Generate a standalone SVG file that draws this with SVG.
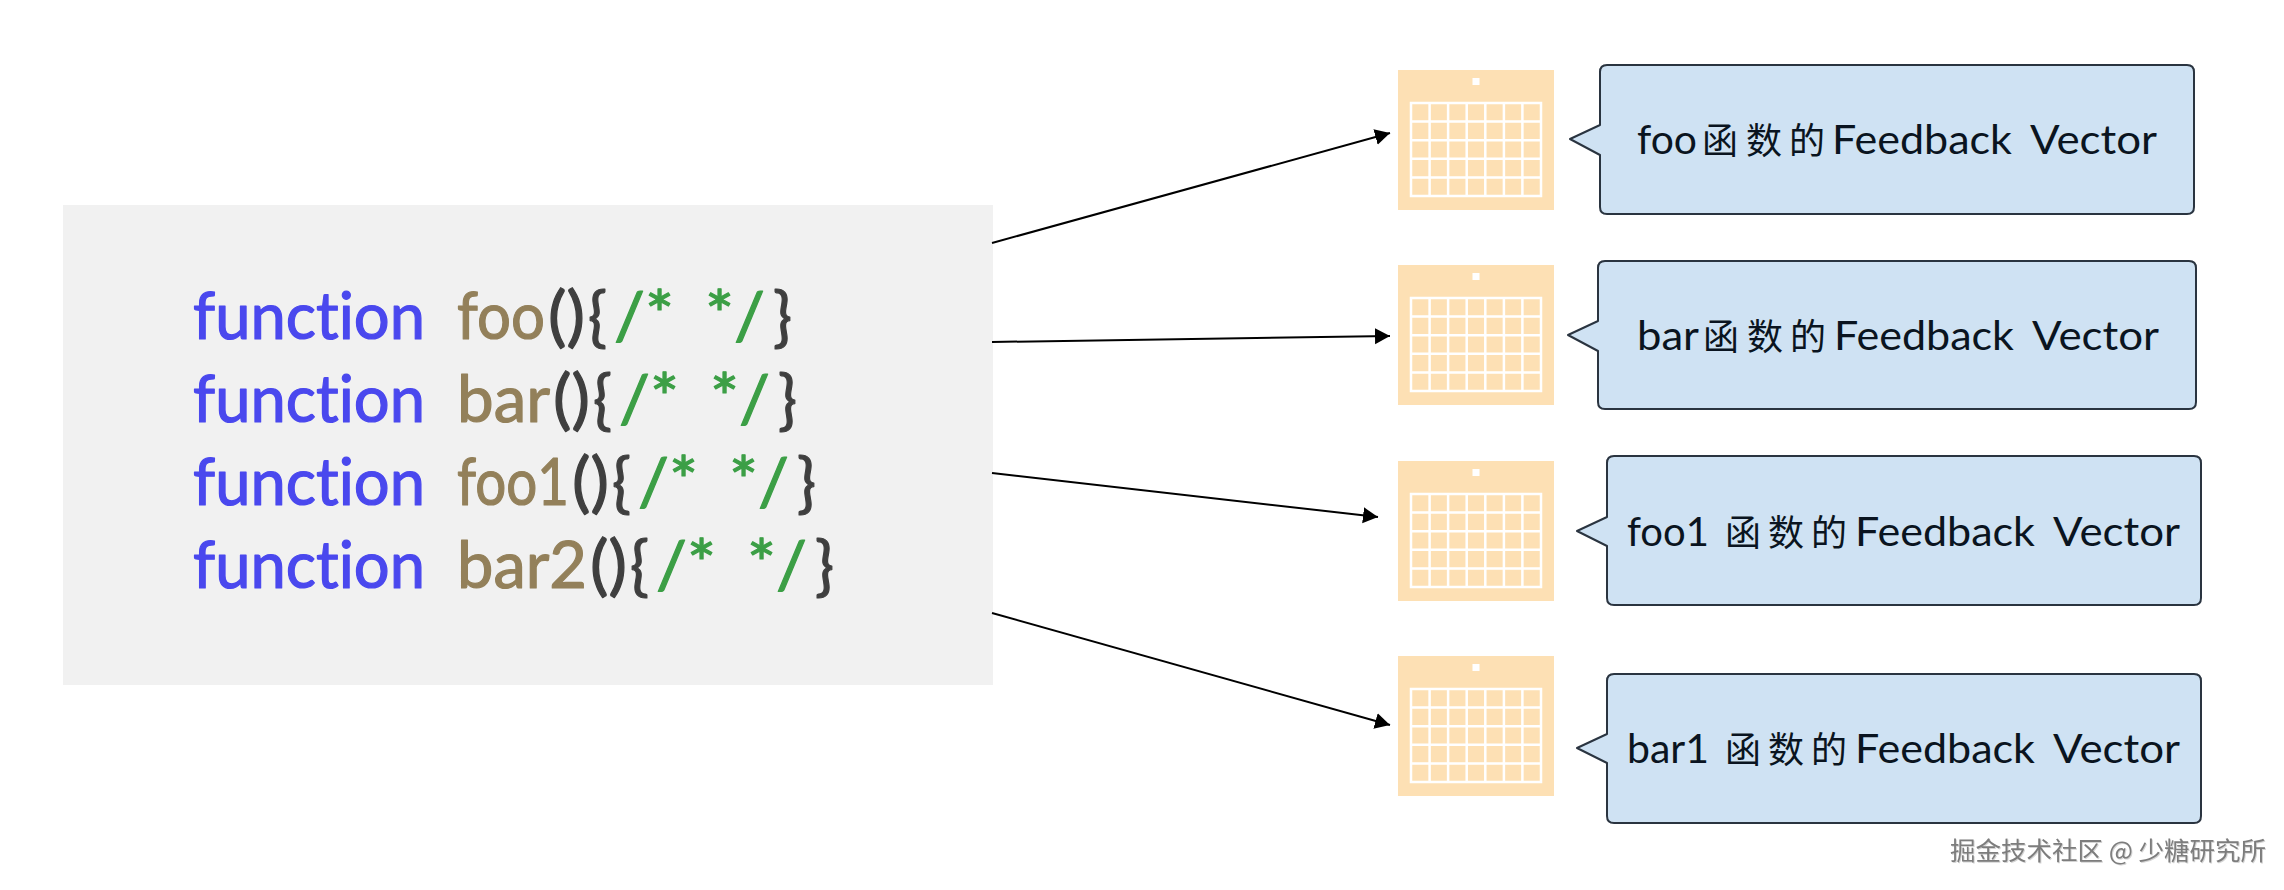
<svg xmlns="http://www.w3.org/2000/svg" width="2284" height="890" viewBox="0 0 2284 890">
<style>
text{font-variant-ligatures:none}
.c{font-size:65px;font-family:"Lato","Noto Sans",sans-serif;stroke-width:1.200px;stroke-linejoin:round}
.k{fill:#4a48ee;stroke:#4a48ee}.n{fill:#93805a;stroke:#93805a}.p{fill:#3f3f3f;stroke:#3f3f3f}.g{fill:#3c9f46;stroke:#3c9f46}
.t{font-size:40px;fill:#0a1420;font-family:"Lato","Noto Sans CJK SC",sans-serif}
.z{font-size:36px;fill:#0a1420;font-family:"Noto Sans CJK SC",sans-serif;font-weight:400}
.b{fill:#cfe2f3;stroke:#2a3440;stroke-width:2;stroke-linejoin:round}
.cal{fill:#fde0b4}
.grid{stroke:#fff;stroke-width:2.500;fill:none}
.conn{stroke:#000;stroke-width:2;fill:none;marker-end:url(#a)}
.wm{font-size:25.500px;fill:#7d7d7d;font-family:"Noto Sans CJK SC",sans-serif;filter:drop-shadow(1px 1px 0 #d4d4d4)}
</style>
<defs>
<marker id="a" markerUnits="userSpaceOnUse" markerWidth="18" markerHeight="18" refX="15" refY="9" orient="auto"><path d="M0 1L15 9L0 17Z" fill="#000"/></marker>
<g id="calendar">
<rect class="cal" width="156" height="140"/>
<rect x="74.500" y="8" width="7" height="7" fill="#fff"/>
<path class="grid" d="M13 33H143V126H13ZM13 51.600H143M13 70.200H143M13 88.800H143M13 107.400H143M31.600 33V126M50.100 33V126M68.700 33V126M87.300 33V126M105.900 33V126M124.400 33V126"/>
</g>
</defs>
<g id="code">
<rect x="63" y="205" width="930" height="480" fill="#f1f1f1"/>
<text class="c k" x="193" y="339" textLength="232" lengthAdjust="spacingAndGlyphs">function</text>
<text class="c n" x="457" y="339" textLength="88" lengthAdjust="spacingAndGlyphs">foo</text>
<text class="c p" x="548" y="339" textLength="37" lengthAdjust="spacingAndGlyphs">()</text>
<text class="c p" x="588" y="339" textLength="19" lengthAdjust="spacingAndGlyphs">{</text>
<text class="c g" x="614" y="339" textLength="60" lengthAdjust="spacingAndGlyphs">/*</text>
<text class="c g" x="705" y="339" textLength="60" lengthAdjust="spacingAndGlyphs">*/</text>
<text class="c p" x="773" y="339" textLength="19" lengthAdjust="spacingAndGlyphs">}</text>
<text class="c k" x="193" y="422" textLength="232" lengthAdjust="spacingAndGlyphs">function</text>
<text class="c n" x="457" y="422" textLength="93" lengthAdjust="spacingAndGlyphs">bar</text>
<text class="c p" x="553" y="422" textLength="37" lengthAdjust="spacingAndGlyphs">()</text>
<text class="c p" x="593" y="422" textLength="19" lengthAdjust="spacingAndGlyphs">{</text>
<text class="c g" x="619" y="422" textLength="60" lengthAdjust="spacingAndGlyphs">/*</text>
<text class="c g" x="710" y="422" textLength="60" lengthAdjust="spacingAndGlyphs">*/</text>
<text class="c p" x="778" y="422" textLength="19" lengthAdjust="spacingAndGlyphs">}</text>
<text class="c k" x="193" y="505" textLength="232" lengthAdjust="spacingAndGlyphs">function</text>
<text class="c n" x="457" y="505" textLength="112" lengthAdjust="spacingAndGlyphs">foo1</text>
<text class="c p" x="572" y="505" textLength="37" lengthAdjust="spacingAndGlyphs">()</text>
<text class="c p" x="612" y="505" textLength="19" lengthAdjust="spacingAndGlyphs">{</text>
<text class="c g" x="638" y="505" textLength="60" lengthAdjust="spacingAndGlyphs">/*</text>
<text class="c g" x="729" y="505" textLength="60" lengthAdjust="spacingAndGlyphs">*/</text>
<text class="c p" x="797" y="505" textLength="19" lengthAdjust="spacingAndGlyphs">}</text>
<text class="c k" x="193" y="588" textLength="232" lengthAdjust="spacingAndGlyphs">function</text>
<text class="c n" x="457" y="588" textLength="130" lengthAdjust="spacingAndGlyphs">bar2</text>
<text class="c p" x="590" y="588" textLength="37" lengthAdjust="spacingAndGlyphs">()</text>
<text class="c p" x="630" y="588" textLength="19" lengthAdjust="spacingAndGlyphs">{</text>
<text class="c g" x="656" y="588" textLength="60" lengthAdjust="spacingAndGlyphs">/*</text>
<text class="c g" x="747" y="588" textLength="60" lengthAdjust="spacingAndGlyphs">*/</text>
<text class="c p" x="815" y="588" textLength="19" lengthAdjust="spacingAndGlyphs">}</text>
</g>
<g id="connectors">
<line class="conn" x1="992" y1="243" x2="1390" y2="133"/>
<line class="conn" x1="992" y1="342" x2="1390" y2="336"/>
<line class="conn" x1="992" y1="473" x2="1378" y2="517"/>
<line class="conn" x1="992" y1="613" x2="1390" y2="725"/>
</g>
<g id="cal1"><use href="#calendar" x="1398" y="70"/></g>
<g id="cal2"><use href="#calendar" x="1398" y="265"/></g>
<g id="cal3"><use href="#calendar" x="1398" y="461"/></g>
<g id="cal4"><use href="#calendar" x="1398" y="656"/></g>
<g id="box1">
<path class="b" d="M1607 65H2187Q2194 65 2194 72V207Q2194 214 2187 214H1607Q1600 214 1600 207V155L1570 139L1600 125V72Q1600 65 1607 65Z"/>
<text class="t" x="1637" y="154" textLength="60" lengthAdjust="spacingAndGlyphs">foo</text>
<text class="z" x="1702" y="154">函</text><text class="z" x="1746" y="154">数</text><text class="z" x="1789" y="154">的</text>
<text class="t" x="1832" y="154" textLength="180" lengthAdjust="spacingAndGlyphs">Feedback</text>
<text class="t" x="2030" y="154" textLength="127" lengthAdjust="spacingAndGlyphs">Vector</text>
</g>
<g id="box2">
<path class="b" d="M1605 261H2189Q2196 261 2196 268V402Q2196 409 2189 409H1605Q1598 409 1598 402V351L1568 335L1598 321V268Q1598 261 1605 261Z"/>
<text class="t" x="1637" y="350" textLength="62" lengthAdjust="spacingAndGlyphs">bar</text>
<text class="z" x="1703" y="350">函</text><text class="z" x="1747" y="350">数</text><text class="z" x="1790" y="350">的</text>
<text class="t" x="1834" y="350" textLength="180" lengthAdjust="spacingAndGlyphs">Feedback</text>
<text class="t" x="2032" y="350" textLength="127" lengthAdjust="spacingAndGlyphs">Vector</text>
</g>
<g id="box3">
<path class="b" d="M1614 456H2194Q2201 456 2201 463V598Q2201 605 2194 605H1614Q1607 605 1607 598V546L1577 531L1607 517V463Q1607 456 1614 456Z"/>
<text class="t" x="1627" y="546" textLength="82" lengthAdjust="spacingAndGlyphs">foo1</text>
<text class="z" x="1725" y="546">函</text><text class="z" x="1768" y="546">数</text><text class="z" x="1811" y="546">的</text>
<text class="t" x="1855" y="546" textLength="180" lengthAdjust="spacingAndGlyphs">Feedback</text>
<text class="t" x="2053" y="546" textLength="127" lengthAdjust="spacingAndGlyphs">Vector</text>
</g>
<g id="box4">
<path class="b" d="M1614 674H2194Q2201 674 2201 681V816Q2201 823 2194 823H1614Q1607 823 1607 816V763L1577 748L1607 734V681Q1607 674 1614 674Z"/>
<text class="t" x="1627" y="763" textLength="82" lengthAdjust="spacingAndGlyphs">bar1</text>
<text class="z" x="1725" y="763">函</text><text class="z" x="1768" y="763">数</text><text class="z" x="1811" y="763">的</text>
<text class="t" x="1855" y="763" textLength="180" lengthAdjust="spacingAndGlyphs">Feedback</text>
<text class="t" x="2053" y="763" textLength="127" lengthAdjust="spacingAndGlyphs">Vector</text>
</g>
<text class="wm" x="1950" y="860">掘金技术社区 @ 少糖研究所</text>
</svg>
